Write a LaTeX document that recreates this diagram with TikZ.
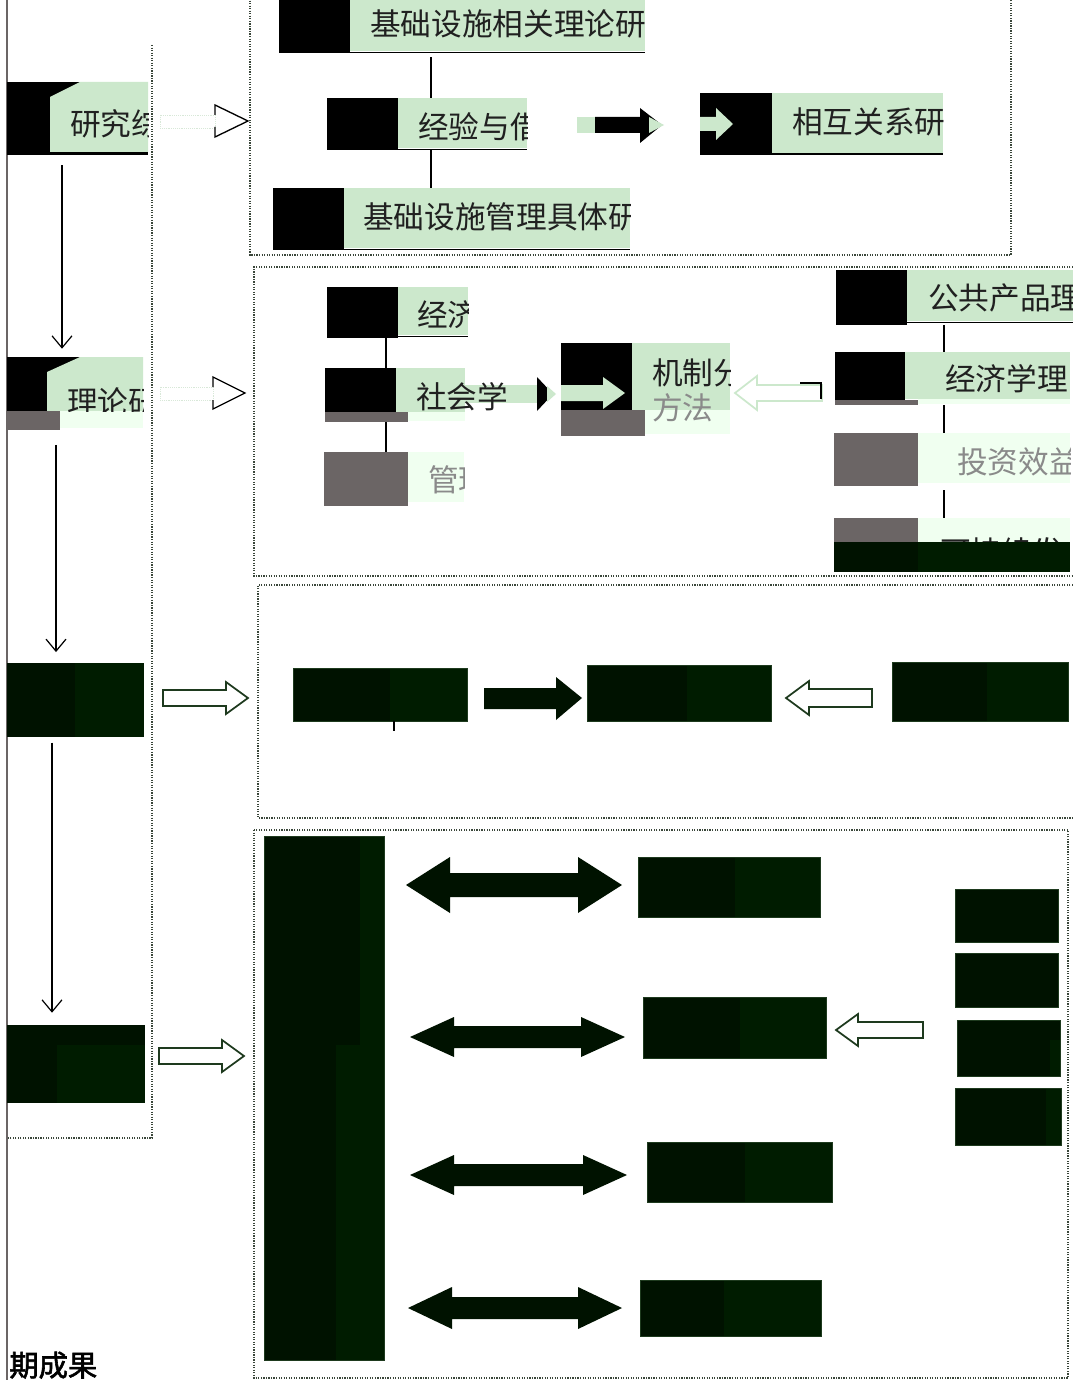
\documentclass[tikz,border=0pt]{standalone}
\usepackage{fontspec}
\newfontfamily\cjk{Noto Sans CJK SC}
\newfontfamily\cjkb[FakeBold=2]{Noto Sans CJK SC}
\usetikzlibrary{fit,arrows.meta}
\definecolor{lg}{HTML}{CCE8CC}
\definecolor{vlg}{HTML}{F0FFF0}
\definecolor{gr}{HTML}{6B6565}
\definecolor{dk}{HTML}{001200}
\definecolor{dkb}{HTML}{001C00}
\definecolor{dkline}{HTML}{1E3A1E}
\definecolor{dotc}{HTML}{3A463A}
\definecolor{txtc}{HTML}{202020}
\definecolor{gtxtc}{HTML}{8A8A8A}
\definecolor{faint}{HTML}{D8E8D8}
\newcommand\harrowR[7]{\draw[#1] (#2,{#4-#5}) -- ({#3-#7},{#4-#5}) -- ({#3-#7},{#4-#6}) -- (#3,#4) -- ({#3-#7},{#4+#6}) -- ({#3-#7},{#4+#5}) -- (#2,{#4+#5}) -- cycle;}
\newcommand\harrowL[7]{\draw[#1] (#3,{#4-#5}) -- ({#2+#7},{#4-#5}) -- ({#2+#7},{#4-#6}) -- (#2,#4) -- ({#2+#7},{#4+#6}) -- ({#2+#7},{#4+#5}) -- (#3,{#4+#5}) -- cycle;}
\newcommand\harrowLR[7]{\fill[#1] (#2,#4) -- ({#2+#7},{#4-#6}) -- ({#2+#7},{#4-#5}) -- ({#3-#7},{#4-#5}) -- ({#3-#7},{#4-#6}) -- (#3,#4) -- ({#3-#7},{#4+#6}) -- ({#3-#7},{#4+#5}) -- ({#2+#7},{#4+#5}) -- ({#2+#7},{#4+#6}) -- cycle;}
\begin{document}
\begin{tikzpicture}[x=0.75pt,y=-0.75pt,
  txt/.style={anchor=west,inner sep=0pt,font=\cjk\fontsize{23}{27}\selectfont,text=txtc},
  gtxt/.style={txt,text=gtxtc},
  frame/.style={densely dotted,line width=0.9pt,draw=dotc},
  link/.style={draw=black,line width=0.9pt},
  down/.style={draw=black,line width=0.9pt,-{Straight Barb[length=9pt,width=15pt,line width=0.9pt]}},
  holo/.style={draw=black,fill=white,line width=1pt,line join=miter},
  holog/.style={draw=dkline,fill=white,line width=1.3pt,line join=miter},
  hololg/.style={draw=lg,fill=white,line width=1.3pt,line join=miter},
  region/.style={inner sep=0pt},
  dkbox/.style={draw=dkline,line width=0.6pt}]
\clip (0,0) rectangle (1073,1380);
\fill[white] (0,0) rectangle (1073,1380);

% ---------- frames ----------
\draw[gr,line width=1.6pt] (7,0) -- (7,1380);
\draw[frame] (152,45) -- (152,1138) -- (7,1138);
\draw[frame] (250,-2) -- (250,255) -- (1011,255) -- (1011,-2);
\draw[frame] (1073,267) -- (254,267) -- (254,576) -- (1073,576);
\draw[frame] (1073,585) -- (258,585) -- (258,818) -- (1073,818);
\draw[frame] (254,830) rectangle (1068,1378);

% ---------- left column ----------
\fill[black] (7,82) rectangle (148,155);
\fill[lg] (50,152) -- (50,97) -- (80,82) -- (148,82) -- (148,152) -- cycle;
\node[region,fit={(7,82)(148,155)}] (L1) {};
\begin{scope}\clip (50,82) rectangle (148,152);
\node[txt] (t1) at (70,124) {研究综};
\end{scope}
\draw[faint,densely dotted] (160,115) rectangle (215,128);
\draw[holo,fill=none] (215,115) -- (215,105) -- (248,121) -- (215,137) -- (215,127);
\fill[black] (7,357) rectangle (143,411);
\fill[lg] (47,411) -- (47,372) -- (80,357) -- (143,357) -- (143,411) -- cycle;
\fill[gr] (7,411) rectangle (60,430);
\fill[vlg] (60,411) rectangle (143,428);
\node[region,fit={(7,357)(143,430)}] (L2) {};
\begin{scope}\clip (47,357) rectangle (143,411);
\node[txt] (t2) at (67,402) {理论研};
\end{scope}
\draw[faint,densely dotted] (160,387) rectangle (213,400);
\draw[holo,fill=none] (213,387) -- (213,377) -- (245,393) -- (213,409) -- (213,400);
\fill[dk] (7,663) rectangle (75,737);
\fill[dkb] (75,663) rectangle (144,737);
\node[region,fit={(7,663)(144,737)}] (L3) {};
\harrowR{holog}{163}{248}{698}{8}{16}{22}
\fill[dk] (7,1025) rectangle (145,1103);
\fill[dkb] (57,1045) rectangle (145,1103);
\node[region,fit={(7,1025)(145,1103)}] (L4) {};
\harrowR{holog}{159}{244}{1056}{8}{16}{22}
\coordinate (c1) at (62,0); \coordinate (c2) at (56,0); \coordinate (c3) at (52,0);
\draw[down,shorten <=7.5pt,shorten >=6pt] (L1.south -| c1) -- (L2.north -| c1);
\draw[down,shorten <=11pt,shorten >=8pt] (L2.south -| c2) -- (L3.north -| c2);
\draw[down,shorten <=4pt,shorten >=9pt] (L3.south -| c3) -- (L4.north -| c3);

% ---------- section 1 ----------
\fill[black] (279,-5) rectangle (350,53);
\fill[lg] (350,-5) rectangle (645,51);
\draw[black,line width=1.2pt] (350,52.5) -- (645,52.5);
\node[region,fit={(279,0)(645,53)}] (A) {};
\begin{scope}\clip (350,-5) rectangle (645,51);
\node[txt] (tA) at (370,24) {基础设施相关理论研};
\end{scope}
\fill[black] (327,98) rectangle (398,150);
\fill[lg] (398,98) rectangle (527,148);
\draw[black,line width=1.2pt] (398,149.5) -- (527,149.5);
\node[region,fit={(327,98)(527,150)}] (B) {};
\begin{scope}\clip (398,98) rectangle (527,148);
\node[txt] (tB) at (418,127) {经验与借};
\end{scope}
\fill[black] (273,188) rectangle (344,250);
\fill[lg] (344,188) rectangle (630,248);
\draw[black,line width=1.2pt] (344,249.5) -- (630,249.5);
\node[region,fit={(273,188)(630,250)}] (C) {};
\begin{scope}\clip (344,188) rectangle (630,248);
\node[txt] (tC) at (363,217) {基础设施管理具体研};
\end{scope}
\coordinate (cx1) at (431,0);
\draw[link] (A.south -| cx1) ++(0,4) -- (B.north -| cx1);
\draw[link] (B.south -| cx1) -- (C.north -| cx1);
\fill[lg] (577,117) rectangle (595,133);
\fill[black] (595,117) -- (640,117) -- (640,108) -- (662,125) -- (640,143) -- (640,133) -- (595,133) -- cycle;
\fill[lg] (649,117) -- (664,125) -- (649,133) -- cycle;
\fill[black] (700,93) rectangle (772,155);
\fill[lg] (772,93) rectangle (943,153);
\draw[black,line width=1.2pt] (772,154) -- (943,154);
\fill[lg] (700,117) -- (716,117) -- (716,108) -- (733,124) -- (716,140) -- (716,131) -- (700,131) -- cycle;
\node[region,fit={(700,93)(943,155)}] (D) {};
\begin{scope}\clip (772,93) rectangle (943,153);
\node[txt] (tD) at (792,122) {相互关系研};
\end{scope}

% ---------- section 2 ----------
\fill[black] (327,287) rectangle (398,338);
\fill[lg] (398,287) rectangle (468,335);
\draw[black,line width=1.2pt] (398,336.5) -- (468,336.5);
\node[region,fit={(327,287)(468,338)}] (E) {};
\begin{scope}\clip (398,287) rectangle (468,335);
\node[txt] (tE) at (417,315) {经济};
\end{scope}
\fill[black] (325,368) rectangle (396,412);
\fill[lg] (396,368) rectangle (465,412);
\fill[gr] (325,412) rectangle (408,422);
\fill[vlg] (408,412) rectangle (465,421);
\node[region,fit={(325,368)(465,422)}] (F) {};
\fill[lg] (465,385) rectangle (537,403);
\node[txt] (tF) at (416,397) {社会学};
\fill[black] (537,377) -- (553,394) -- (537,411) -- cycle;
\fill[lg] (547,386) -- (556,394) -- (547,402) -- cycle;
\fill[gr] (324,452) rectangle (408,506);
\fill[vlg] (408,452) rectangle (464,502);
\node[region,fit={(324,452)(464,506)}] (G) {};
\begin{scope}\clip (408,452) rectangle (464,502);
\node[gtxt] (tG) at (428,480) {管理};
\end{scope}
\coordinate (cx2) at (386,0);
\draw[link] (E.south -| cx2) -- (F.north -| cx2);
\draw[link] (F.south -| cx2) -- (G.north -| cx2);
\fill[black] (561,343) rectangle (632,410);
\fill[lg] (632,343) rectangle (730,410);
\fill[gr] (561,410) rectangle (645,436);
\fill[vlg] (645,410) rectangle (730,434);
\fill[lg] (561,385) -- (603,385) -- (603,377) -- (625,393) -- (603,409) -- (603,401) -- (561,401) -- cycle;
\node[region,fit={(561,343)(730,436)}] (H) {};
\begin{scope}\clip (632,343) rectangle (730,436);
\node[txt] (tH1) at (652,373) {机制分};
\node[gtxt] (tH2) at (652,408) {方法};
\end{scope}
\harrowL{hololg}{735}{822}{393}{8}{17}{22}
\draw[black,line width=1pt] (800,383) -- (821,383) -- (821,399);
\fill[black] (836,270) rectangle (907,325);
\fill[lg] (907,270) rectangle (1073,321);
\draw[black,line width=1.2pt] (907,322.5) -- (1073,322.5);
\node[region,fit={(836,270)(1073,325)}] (I) {};
\begin{scope}\clip (907,270) rectangle (1073,321);
\node[txt] (tI) at (928,298) {公共产品理};
\end{scope}
\fill[black] (835,352) rectangle (905,400);
\fill[gr] (835,400) rectangle (918,405);
\fill[lg] (905,352) rectangle (1070,399);
\fill[vlg] (918,399) rectangle (1070,404);
\node[region,fit={(835,352)(1070,405)}] (J) {};
\begin{scope}\clip (905,352) rectangle (1070,404);
\node[txt] (tJ) at (945,379) {经济学理};
\end{scope}
\fill[gr] (834,433) rectangle (918,486);
\fill[vlg] (918,433) rectangle (1070,483);
\node[region,fit={(834,433)(1070,486)}] (K) {};
\begin{scope}\clip (918,433) rectangle (1070,483);
\node[gtxt] (tK) at (957,462) {投资效益};
\end{scope}
\fill[gr] (834,518) rectangle (918,545);
\fill[vlg] (918,518) rectangle (1070,545);
\begin{scope}\clip (918,518) rectangle (1070,542);
\node[txt] (tL) at (940,552) {可持续发};
\end{scope}
\fill[dk] (834,542) rectangle (918,572);
\fill[dkb] (918,542) rectangle (1070,572);
\node[region,fit={(834,518)(1070,572)}] (Lb) {};
\coordinate (cx3) at (944,0);
\draw[link] (I.south -| cx3) -- (J.north -| cx3);
\draw[link] (J.south -| cx3) -- (K.north -| cx3);
\draw[link] (K.south -| cx3) ++(0,4) -- (Lb.north -| cx3);

% ---------- section 3 ----------
\fill[dk] (293,668) rectangle (390,721);
\fill[dkb] (390,668) rectangle (467,721);
\node[region,dkbox,fit={(293,668)(467,721)}] (M) {};
\draw[link] (394,721) -- (394,731);
\fill[dk] (484,688) -- (556,688) -- (556,677) -- (582,698) -- (556,720) -- (556,709) -- (484,709) -- cycle;
\fill[dk] (587,665) rectangle (687,721);
\fill[dkb] (687,665) rectangle (771,721);
\node[region,dkbox,fit={(587,665)(771,721)}] (N) {};
\harrowL{holog}{786}{872}{698}{9}{17}{23}
\fill[dk] (892,662) rectangle (987,721);
\fill[dkb] (987,662) rectangle (1068,721);
\node[region,dkbox,fit={(892,662)(1068,721)}] (O) {};

% ---------- section 4 ----------
\fill[dkb] (264,836) rectangle (384,1360);
\fill[dk] (264,836) rectangle (360,1045);
\fill[dk] (264,1045) rectangle (336,1360);
\node[region,dkbox,fit={(264,836)(384,1360)}] (P) {};
\harrowLR{dk}{406}{622}{885}{12}{28}{44}
\harrowLR{dk}{410}{625}{1037}{11}{20}{44}
\harrowLR{dk}{410}{627}{1175}{11}{20}{44}
\harrowLR{dk}{408}{622}{1308}{11}{21}{44}
\fill[dk] (638,857) rectangle (735,917); \fill[dkb] (735,857) rectangle (820,917);
\node[region,dkbox,fit={(638,857)(820,917)}] (Q1) {};
\fill[dk] (643,997) rectangle (740,1058); \fill[dkb] (740,997) rectangle (826,1058);
\node[region,dkbox,fit={(643,997)(826,1058)}] (Q2) {};
\fill[dk] (647,1142) rectangle (745,1202); \fill[dkb] (745,1142) rectangle (832,1202);
\node[region,dkbox,fit={(647,1142)(832,1202)}] (Q3) {};
\fill[dk] (640,1280) rectangle (724,1336); \fill[dkb] (724,1280) rectangle (821,1336);
\node[region,dkbox,fit={(640,1280)(821,1336)}] (Q4) {};
\harrowL{holog}{836}{923}{1030}{8}{16}{22}
\fill[dk] (955,889) rectangle (1058,942);
\node[region,dkbox,fit={(955,889)(1058,942)}] (R1) {};
\fill[dk] (955,953) rectangle (1058,1007);
\node[region,dkbox,fit={(955,953)(1058,1007)}] (R2) {};
\fill[dk] (957,1020) rectangle (1060,1076); \fill[dkb] (1050,1040) rectangle (1060,1076);
\node[region,dkbox,fit={(957,1020)(1060,1076)}] (R3) {};
\fill[dk] (955,1088) rectangle (1061,1145); \fill[dkb] (1046,1088) rectangle (1061,1145);
\node[region,dkbox,fit={(955,1088)(1061,1145)}] (R4) {};

% bottom caption
\node[anchor=south west,inner sep=0pt,font=\cjkb\fontsize{22}{26}\selectfont,text=black] (res) at (9,1379) {期成果};
\end{tikzpicture}
\end{document}
